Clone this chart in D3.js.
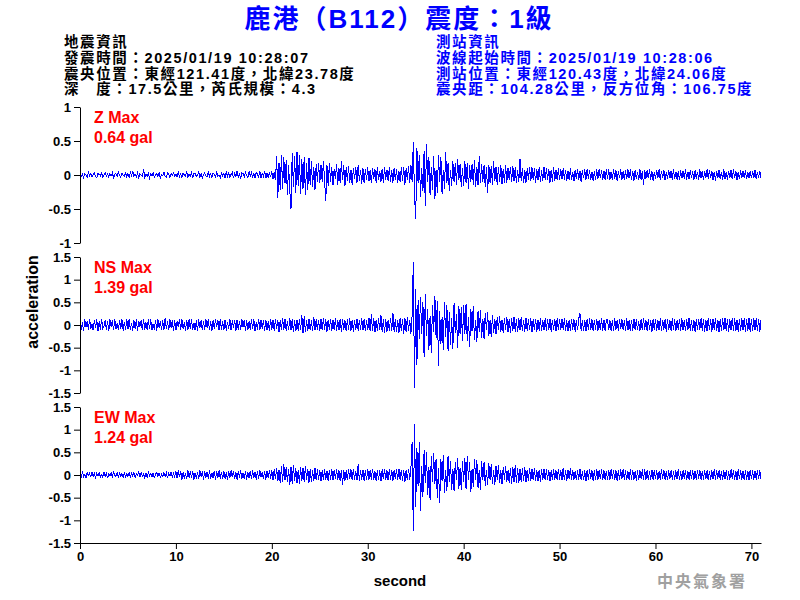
<html>
	<head>
		<meta charset="utf-8">
		<script type="text/javascript" src="https://cdn.jsdelivr.net/npm/d3@7"></script>
		<style>
			body{ margin:0; background:#fff; }
			svg{ font-family:Arial, "Liberation Sans", "Noto Sans CJK TC", sans-serif; }
			.axis path, .axis line{ stroke:#000; }
			.axis text{ font-size:13px; font-weight:bold; fill:#000; font-family:Arial, "Liberation Sans", sans-serif; }
			.wave{ fill:none; stroke:#0000ff; stroke-width:1; shape-rendering:crispEdges; }
		</style>
	</head>
	<body>
		<div id="container"></div>
		<script type="text/javascript">

			// header texts
			var title = "鹿港（B112）震度：1級";
			var quakeInfo = ["地震資訊", "發震時間：2025/01/19 10:28:07", "震央位置：東經121.41度，北緯23.78度", "深　度：17.5公里，芮氏規模：4.3"];
			var stationInfo = ["測站資訊", "波線起始時間：2025/01/19 10:28:06", "測站位置：東經120.43度，北緯24.06度", "震央距：104.28公里，反方位角：106.75度"];

			// channels
			var channels = ["Z", "NS", "EW"];
			var maxValues = ["0.64 gal", "1.39 gal", "1.24 gal"];
			var yTicksZ = [-1, -0.5, 0, 0.5, 1];
			var yTicksH = [-1.5, -1, -0.5, 0, 0.5, 1, 1.5];
			var xTicks = [0, 10, 20, 30, 40, 50, 60, 70];
			var sampleStep = 0.125; // seconds between the values below
			// wave values in units of 0.01 gal (one row = 5 s)

			var zWave = [
				3,-2,1,-4,2,0,-3,4,-1,2,-3,1,3,-2,-4,2,1,-1,3,-3,0,4,-2,1,-3,2,-1,3,-4,1,2,-2,4,-1,-3,2,0,-2,3,-3,
				2,-3,4,-1,6,-2,1,-3,3,-4,2,0,-2,8,-3,1,-2,3,-4,2,-1,4,-3,0,2,-2,3,-4,1,-1,4,-2,-3,3,1,-4,2,-1,3,-2,
				1,-3,4,-2,2,-4,3,0,-2,5,-3,1,-1,4,-4,2,3,-2,-1,4,-3,2,-4,1,3,-1,-3,5,-2,2,-4,3,1,-3,4,-2,0,-4,3,-1,
				2,-4,5,-2,3,-3,1,4,-4,2,-2,6,-3,1,-5,3,2,-3,4,-1,-4,5,-2,3,-3,2,-5,4,1,-3,5,-4,2,-2,6,-5,3,-4,4,-3,
				5,-6,4,-8,28,-34,18,-22,30,-20,26,-12,22,-30,14,-24,-50,33,-18,28,-26,34,-16,30,-28,24,-20,26,-30,18,-22,25,-14,20,-18,12,-22,16,-10,18,
				-12,15,-10,20,-8,-38,14,-16,18,-10,12,-15,9,-6,16,-14,10,-12,20,-8,14,-16,11,-9,13,-12,8,-15,10,-6,12,-11,15,-9,7,-13,10,-12,9,-8,
				11,-9,7,-12,10,-6,8,-11,12,-8,6,-10,9,-12,11,-7,8,-9,12,-10,7,-11,10,-8,9,-12,6,-10,11,-9,12,-14,10,-8,13,-12,15,-10,48,-30,
				-64,40,-12,30,-32,10,-24,36,-45,46,-10,26,-30,12,-22,28,-35,8,-26,30,-10,26,-28,8,-20,34,-12,18,-24,8,-16,20,-10,18,-14,24,-8,16,-18,10,
				-16,20,-12,18,-20,14,-10,16,-14,22,-18,12,-15,28,-12,16,-10,14,-18,12,-26,15,-11,13,-14,20,-9,12,-15,11,-10,14,-13,9,-12,15,-11,10,-8,12,
				-10,13,-9,11,-12,8,-10,24,-9,10,-12,7,-11,10,-8,12,-9,11,-7,10,-12,9,-8,11,-10,7,-9,12,-8,10,-7,9,-11,8,-10,12,-9,7,-8,10,
				-8,9,-6,10,-7,8,-9,6,-7,10,-8,5,-9,7,-6,9,-8,6,-10,7,-5,8,-7,9,-6,7,-8,5,-9,6,-7,8,-6,9,-5,7,-8,6,-7,9,
				-6,8,-7,5,-8,9,-6,7,-9,6,-5,8,-7,6,-8,7,-6,9,-5,8,-7,6,-9,7,-6,5,-8,9,-7,6,-15,8,-6,7,-5,8,-7,6,-8,5,
				-6,7,-5,8,-7,6,-5,7,-8,5,-6,7,-5,6,-7,8,-6,5,-7,6,-8,7,-5,6,-6,8,-7,5,-6,7,-5,6,-8,7,-6,5,-7,8,-5,6,
				-7,6,-5,8,-6,7,-5,6,-7,5,-8,6,-5,7,-6,5,-7,8,-6,5,-7,6,-5,7,-6,8,-5,6,-7,5,-6,7,-4,6,-5,7,-6,4,-5,6,
				-5,6,-4,7,-6,5,-4,6,-5
			];

			var nsWave = [
				10,-12,6,-13,12,-4,9,-11,13,-8,3,-12,11,-6,12,-13,8,-10,14,-7,-2,11,-12,9,-13,12,-5,10,-11,13,-9,4,-12,11,-8,12,-13,7,-10,12,
				-9,13,-11,5,-12,10,-8,12,-13,9,-4,11,-12,14,-10,6,-11,12,-9,13,-12,3,-10,11,-13,12,-7,9,-12,10,-11,15,-9,8,-12,13,-6,10,-13,11,
				-12,9,-5,13,-11,12,-9,6,-13,11,-10,12,-8,14,-12,5,-11,10,-13,12,-7,11,-12,9,-10,13,-6,12,-11,8,-13,10,-9,12,-4,11,-12,13,-10,9,
				-11,12,-13,7,-9,14,-12,10,-6,11,-13,12,-10,9,-12,13,-5,11,-14,10,-12,8,-11,13,-9,12,-13,6,-10,14,-12,11,-8,10,-13,12,-11,9,-14,13,
				-10,12,-13,14,-9,11,-15,12,-12,16,-10,13,-14,9,-12,15,-11,13,-16,12,-14,10,-13,14,-12,22,-18,20,-15,11,-13,14,-12,10,-14,18,-12,13,-11,12,
				-13,14,-12,16,-11,13,-15,12,-10,14,-13,11,-12,15,-14,12,-11,13,-15,14,-12,10,-14,13,-11,16,-13,12,-15,11,-12,14,-13,12,-10,15,-12,13,-14,11,
				-12,16,-14,24,-13,15,-16,12,-14,15,-11,22,-16,13,-18,14,-15,12,-14,16,-13,26,-15,14,-16,12,-18,15,-14,13,-20,16,-15,18,-14,12,-20,20,138,-140,
				80,-88,55,-30,62,-20,50,-70,68,-25,35,-55,20,-62,45,-15,65,-28,52,-90,30,-42,18,-55,50,-26,45,-58,28,-44,15,-52,48,-18,24,-50,42,-20,40,-35,
				44,-20,46,-36,18,-48,35,-14,42,-34,12,-38,30,-16,34,-28,14,-30,26,-12,28,-24,10,-26,22,-18,14,-20,18,-12,20,-16,12,-18,15,-10,18,-16,14,-18,
				16,-14,18,-15,13,-16,15,-12,17,-14,12,-15,16,-13,14,-12,15,-16,13,-11,14,-15,12,-13,16,-14,11,-12,15,-13,14,-12,13,-15,12,-11,14,-13,15,-12,
				13,-12,14,-11,15,-13,10,-14,12,-13,14,-10,13,-15,11,-12,14,26,-14,12,-13,11,-14,13,-12,15,-11,13,-14,12,-10,14,-13,11,-12,15,-13,12,-14,11,
				13,-12,10,-14,12,-13,15,-11,12,-14,13,-9,14,-12,11,-13,15,-12,10,-14,12,-13,14,-11,13,-12,9,-14,13,-12,15,-10,12,-13,14,-11,12,-15,13,-12,
				14,-13,11,-12,15,-14,12,-10,13,-15,14,-12,11,-13,15,-12,13,-14,10,-12,14,-13,15,-11,12,-14,13,-12,16,-13,11,-14,12,-15,13,-12,14,-11,15,-13,
				14,-15,12,-13,16,-12,14,-15,13,-11,15,-14,12,-16,14,-13,15,-12,16,-14,13,-15,14,-12,16,-13,15,-14,12,-16,14,-13,15,-12,16,-15,13,-14,15,-16,
				14,-13,15,-12,16,-14,13,-15,12
			];

			var ewWave = [
				5,-4,6,-3,2,-6,5,-1,4,-5,7,-3,3,-6,4,-2,5,-4,1,-5,6,-3,4,-7,3,-2,5,-4,6,-1,-3,5,-6,4,-2,3,-5,6,-4,2,
				-3,6,-5,4,-2,5,-6,3,-1,7,-4,5,-3,2,-6,4,-5,6,-2,3,-4,5,-7,2,6,-3,4,-5,1,-4,6,-3,5,-6,4,-2,7,-5,3,-4,
				8,-7,10,-5,9,-10,6,-8,4,-9,10,-6,8,-7,9,-10,5,-8,7,-9,10,-4,8,-10,9,-6,7,-8,10,-9,5,-7,9,-10,8,-6,10,-8,7,-9,
				9,-8,6,-10,9,-7,10,-5,8,-9,7,-10,9,-6,10,-8,5,-9,8,-10,7,-6,9,-8,10,-7,6,-10,8,-9,10,-5,7,-9,8,-10,9,-6,10,-8,
				10,-12,14,-9,16,-14,12,-18,20,-15,24,-12,18,-16,14,-22,17,-20,22,-14,16,-18,12,-20,18,-13,15,-16,20,-12,14,-17,13,-15,11,-14,16,-12,13,-10,
				12,-14,10,-12,13,-11,9,-13,12,-10,14,-12,11,-9,13,-12,10,-14,12,-22,11,-13,10,-12,14,-9,12,-11,13,-10,9,-12,24,-13,11,-10,12,-14,10,-11,
				13,-11,12,-10,14,-12,9,-13,11,-12,10,-14,12,-9,13,-11,10,-12,14,-10,12,-13,11,-9,13,-12,14,-10,11,-13,12,-15,10,-12,14,-11,16,72,-124,113,
				-70,60,-25,72,-80,20,-48,55,-18,50,-45,18,-55,42,-15,48,-20,36,-50,16,-62,35,-14,44,-40,12,-36,42,-15,30,-34,14,-35,28,-12,38,-30,16,-33,30,
				-15,38,-30,42,-12,28,-38,14,-26,36,-10,32,-28,12,-34,30,-10,28,-24,12,-22,26,-10,24,-20,12,-22,20,-10,22,-18,10,-20,18,-10,20,-16,10,-18,16,
				-20,18,-16,22,-17,15,-18,14,-16,15,-13,17,-15,12,-14,16,-13,14,-12,15,-13,11,-14,12,-15,13,-11,14,-12,13,-10,12,-14,11,-12,13,-11,10,-12,14,
				-10,12,-11,16,-12,10,-13,11,-9,15,-11,12,-10,9,-12,11,-10,13,-11,9,-12,10,-14,11,-10,12,-9,11,-13,10,-12,14,-10,11,-9,12,-11,10,-12,9,
				-11,12,-10,13,-9,11,-12,10,-14,11,-10,12,-9,13,-11,10,-12,9,-11,13,-10,12,-11,9,-13,10,-12,11,-9,12,-10,13,-11,10,-12,9,-11,12,-10,11,
				-9,10,-11,9,-10,12,-8,11,-10,9,-12,10,-9,11,-10,8,-11,10,-9,12,-10,9,-11,10,-8,11,-12,9,-10,11,-9,10,-12,9,-11,10,-8,11,-10,9,
				-10,11,-9,10,-12,9,-11,10,-9,12,-10,11,-8,10,-11,9,-12,10,-9,11,-10,8,-11,12,-9,10,-11,9,-10,12,-9,11,-10,9,-12,10,-11,9,-10,11,
				-9,10,-11,9,-10,11,-9,10,-9
			];

			var waves = [zWave, nsWave, ewWave];
			var yDomains = [[-1, 1], [-1.5, 1.5], [-1.5, 1.5]];
			var yTickSets = [yTicksZ, yTicksH, yTicksH];

			var svg = d3.select("#container")
				.append("svg")
					.attr("width", 800)
					.attr("height", 600);

			svg.append("text")
				.attr("x", 399).attr("y", 28)
				.attr("text-anchor", "middle")
				.attr("fill", "#0000ff")
				.style("font-size", "26px")
				.style("font-weight", "bold")
				.style("letter-spacing", "2px")
				.text(title);

			// two info blocks, left black and right blue
			[[quakeInfo, 64, "#000"], [stationInfo, 436, "#0000ff"]].forEach(function(b){
				svg.append("g").selectAll("text").data(b[0]).enter().append("text")
					.attr("x", b[1])
					.attr("y", function(d, i){ return 47 + i * 15.8; })
					.attr("fill", b[2])
					.style("font-size", "14.5px")
					.style("font-weight", "bold")
					.style("letter-spacing", "1.6px")
					.text(function(d){ return d; });
			});

			var x = d3.scaleLinear()
				.domain([0, 71])
				.range([80, 761]);

			var panelTops = [107, 257, 407];
			var panelH = 136;

			channels.forEach(function(ch, k){
				var y = d3.scaleLinear()
					.domain(yDomains[k])
					.range([panelTops[k] + panelH, panelTops[k]]);

				var line = d3.line()
					.x(function(d, i){ return x(i * sampleStep); })
					.y(function(d){ return y(d / 100); });

				svg.append("path")
					.datum(waves[k])
					.attr("class", "wave")
					.attr("d", line);

				svg.append("g")
					.attr("class", "axis")
					.attr("transform", "translate(80,0)")
					.call(d3.axisLeft(y)
						.tickValues(yTickSets[k])
						.tickSizeOuter(0)
						.tickFormat(function(d){ return String(d); }));

				svg.append("text")
					.attr("x", 94).attr("y", panelTops[k] + 16)
					.attr("fill", "#ff0000")
					.style("font-size", "16px")
					.style("font-weight", "bold")
					.text(ch + " Max");

				svg.append("text")
					.attr("x", 94).attr("y", panelTops[k] + 36)
					.attr("fill", "#ff0000")
					.style("font-size", "16px")
					.style("font-weight", "bold")
					.text(maxValues[k]);
			});

			svg.append("g")
				.attr("class", "axis")
				.attr("transform", "translate(0,543)")
				.call(d3.axisBottom(x)
					.tickValues(xTicks)
					.tickSizeOuter(0)
					.tickFormat(function(d){ return String(d); }));

			svg.append("text")
				.attr("x", 400).attr("y", 586)
				.attr("text-anchor", "middle")
				.style("font-size", "15px")
				.style("font-weight", "bold")
				.text("second");

			svg.append("text")
				.attr("transform", "translate(38,302) rotate(-90)")
				.attr("text-anchor", "middle")
				.style("font-size", "16px")
				.style("font-weight", "bold")
				.text("acceleration");

			svg.append("text")
				.attr("x", 702).attr("y", 587)
				.attr("text-anchor", "middle")
				.attr("fill", "#a0a0a0")
				.style("font-size", "16px")
				.style("font-weight", "bold")
				.style("letter-spacing", "2px")
				.text("中央氣象署");

		</script>
	</body>
</html>
